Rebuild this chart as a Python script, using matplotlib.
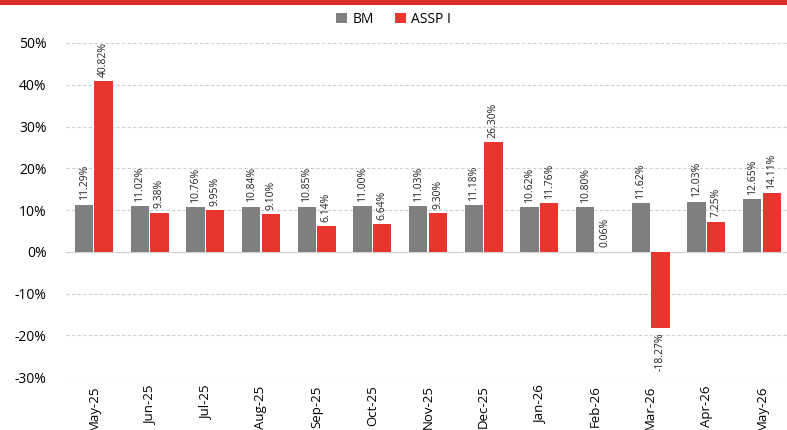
import matplotlib
matplotlib.use("Agg")
import matplotlib.pyplot as plt
import matplotlib.patches as mpatches
import numpy as np

categories = ["May-25", "Jun-25", "Jul-25", "Aug-25", "Sep-25", "Oct-25", "Nov-25",
              "Dec-25", "Jan-26", "Feb-26", "Mar-26", "Apr-26", "May-26"]
bm = [11.29, 11.02, 10.76, 10.84, 10.85, 11.00, 11.03, 11.18, 10.62, 10.80, 11.62, 12.03, 12.65]
assp = [40.82, 9.38, 9.95, 9.10, 6.14, 6.64, 9.30, 26.30, 11.76, 0.06, -18.27, 7.25, 14.11]
yticks = [-30, -20, -10, 0, 10, 20, 30, 40, 50]

plt.rcParams['font.family'] = ['Open Sans', 'DejaVu Sans']

fig = plt.figure(figsize=(7.87, 4.30), dpi=100)
ax = fig.add_axes([0.084, 0.123, 0.916, 0.777])

# top red band
fig.patches.append(mpatches.Rectangle((0, 0.988), 1, 0.012, transform=fig.transFigure,
                                      facecolor="#d9302c", edgecolor="none"))

x = np.arange(len(categories))
w = 0.33
off = 0.175
gray = "#7f7f7f"
red = "#e83530"
b1 = ax.bar(x - off, bm, w, color=gray, label="BM", zorder=3)
b2 = ax.bar(x + off, assp, w, color=red, label="ASSP I", zorder=3)

for xi, v in zip(x - off, bm):
    ax.text(xi, v + 1.0, f"{v:.2f}%", rotation=90, ha="center", va="bottom", fontsize=7.5, color="#222222")
for xi, v in zip(x + off, assp):
    if v >= 0:
        ax.text(xi, v + 1.0, f"{v:.2f}%", rotation=90, ha="center", va="bottom", fontsize=7.5, color="#222222")
    else:
        ax.text(xi, v - 1.0, f"{v:.2f}%", rotation=90, ha="center", va="top", fontsize=7.5, color="#222222")

ax.set_ylim(-30, 50)
ax.set_xlim(-0.5, 12.45)
ax.set_yticks(yticks)
ax.set_yticklabels([f"{t}%" for t in yticks], fontsize=10)
ax.set_xticks(x)
ax.set_xticklabels(categories, rotation=90, fontsize=9.5)
ax.tick_params(length=0, pad=6)
ax.tick_params(axis="y", pad=14)
for s in ax.spines.values():
    s.set_visible(False)
ax.grid(axis="y", linestyle=(0, (3, 2)), color="#cfcfcf", linewidth=0.8, zorder=0)
ax.axhline(0, color="#d9d9d9", linewidth=0.8, zorder=1)

fig.legend(handles=[b1, b2], loc="center", bbox_to_anchor=(0.5, 0.955), ncol=2, frameon=False,
           fontsize=10, handlelength=0.8, handleheight=0.8, columnspacing=1.5, handletextpad=0.4)

fig.savefig("out.png", dpi=100)
